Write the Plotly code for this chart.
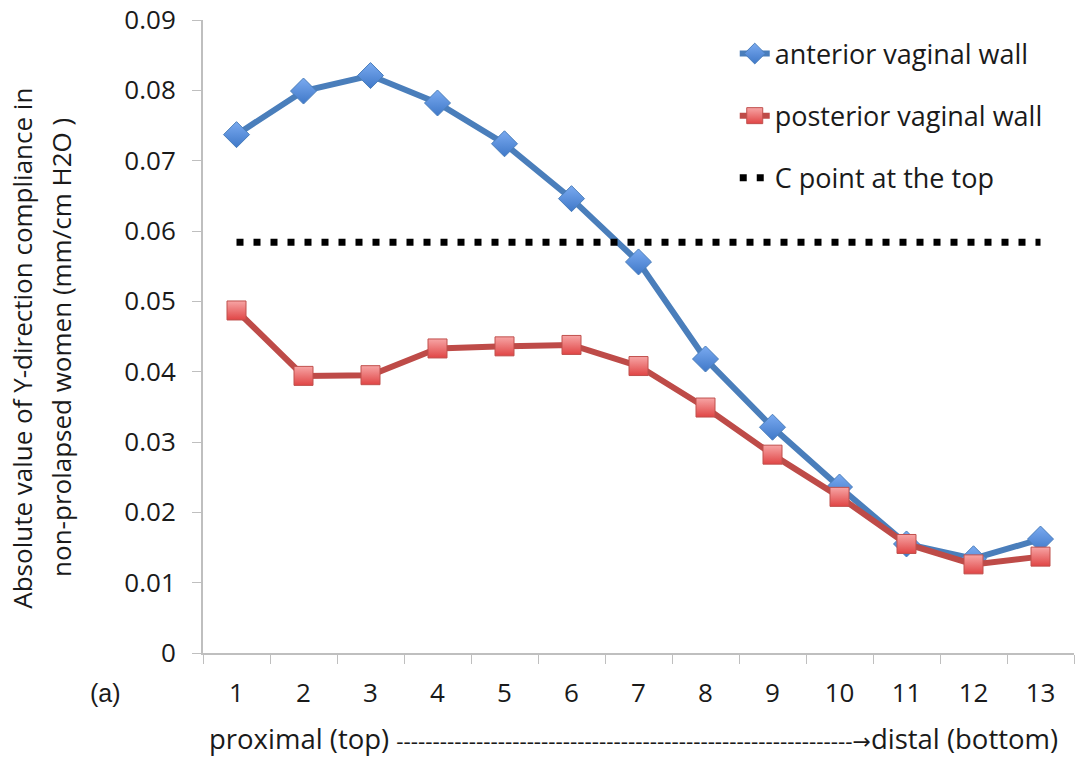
import plotly.graph_objects as go

positions = ["1", "2", "3", "4", "5", "6", "7", "8", "9", "10", "11", "12", "13"]
anterior = [0.0737, 0.0799, 0.0821, 0.0782, 0.0724, 0.0646, 0.0556, 0.0418, 0.0321,
            0.0236, 0.0155, 0.0134, 0.0162]
posterior = [0.0487, 0.0394, 0.0395, 0.0433, 0.0436, 0.0438, 0.0408, 0.0349, 0.0282,
             0.0222, 0.0155, 0.0126, 0.0137]
c_point = [0.0584] * 13

y_title_1 = "Absolute value of Y-direction compliance in"
y_title_2 = "non-prolapsed women (mm/cm H2O )"
caption_left = "proximal (top) "
caption_dashes = "-" * 63
caption_right = "distal (bottom)"
panel_label = "(a)"

FONT = "Open Sans"
GRAY = "#bfbfbf"
TXT = "#1a1a1a"

fig = go.Figure()
fig.add_trace(go.Scatter(
    x=positions, y=anterior, name="anterior vaginal wall", mode="lines+markers",
    line=dict(color="#4a7ebb", width=6),
    marker=dict(symbol="diamond", size=20, color="#7aaaf0",
                gradient=dict(type="vertical", color="#3f78c8"),
                line=dict(color="#4a7ebb", width=1)),
    legendgroup="a",
))
fig.add_trace(go.Scatter(
    x=positions, y=posterior, name="posterior vaginal wall", mode="lines+markers",
    line=dict(color="#be4b48", width=6),
    marker=dict(symbol="square", size=19, color="#f7a5a5",
                gradient=dict(type="vertical", color="#e04545"),
                line=dict(color="#c0504d", width=1)),
    legendgroup="b",
))
fig.add_trace(go.Scatter(
    x=positions, y=c_point, name="C point at the top", mode="lines",
    line=dict(color="black", width=7, dash="7px,10px"),
    legendgroup="c",
))

fig.update_layout(
    width=1076, height=758,
    margin=dict(l=203, r=2, t=20, b=105),
    paper_bgcolor="white", plot_bgcolor="white",
    font=dict(family=FONT, size=22, color=TXT),
    showlegend=True,
    legend=dict(x=0.6105, y=0.985, xanchor="left", yanchor="top",
                font=dict(family=FONT, size=27, color=TXT),
                traceorder="grouped", tracegroupgap=24,
                bgcolor="rgba(0,0,0,0)"),
    xaxis=dict(type="category", range=[-0.5, 12.5], showgrid=False,
               showline=True, linecolor=GRAY, linewidth=2,
               ticks="outside", ticklen=9, tickcolor=GRAY, tickwidth=1,
               tickson="boundaries", ticklabelstandoff=16,
               tickfont=dict(size=26, family=FONT, color=TXT)),
    yaxis=dict(range=[0, 0.09], dtick=0.01, showgrid=False, zeroline=False,
               showline=True, linecolor=GRAY, linewidth=2,
               ticks="outside", ticklen=9, tickcolor=GRAY, tickwidth=1,
               ticklabelstandoff=11,
               tickfont=dict(size=26, family=FONT, color=TXT)),
)

fig.add_annotation(text=y_title_1, xref="paper", yref="paper", x=-0.208, y=0.482,
                   xanchor="center", yanchor="middle", textangle=-90, showarrow=False,
                   font=dict(family=FONT, size=26, color=TXT))
fig.add_annotation(text=y_title_2, xref="paper", yref="paper", x=-0.163, y=0.482,
                   xanchor="center", yanchor="middle", textangle=-90, showarrow=False,
                   font=dict(family=FONT, size=26, color=TXT))
fig.add_annotation(text=panel_label, xref="paper", yref="paper", x=-0.1125, y=-0.063,
                   xanchor="center", yanchor="middle", showarrow=False,
                   font=dict(family="Liberation Sans", size=25, color=TXT))
caption = (caption_left
           + '<span style="font-size:22.5px">' + caption_dashes + '</span>'
           + '<span style="font-family:DejaVu Sans;font-size:22px">→</span>'
           + caption_right)
fig.add_annotation(text=caption, xref="paper", yref="paper", x=0.0045, y=-0.1343,
                   xanchor="left", yanchor="middle", showarrow=False,
                   font=dict(family=FONT, size=27.5, color=TXT))

fig.write_html("out.html")
